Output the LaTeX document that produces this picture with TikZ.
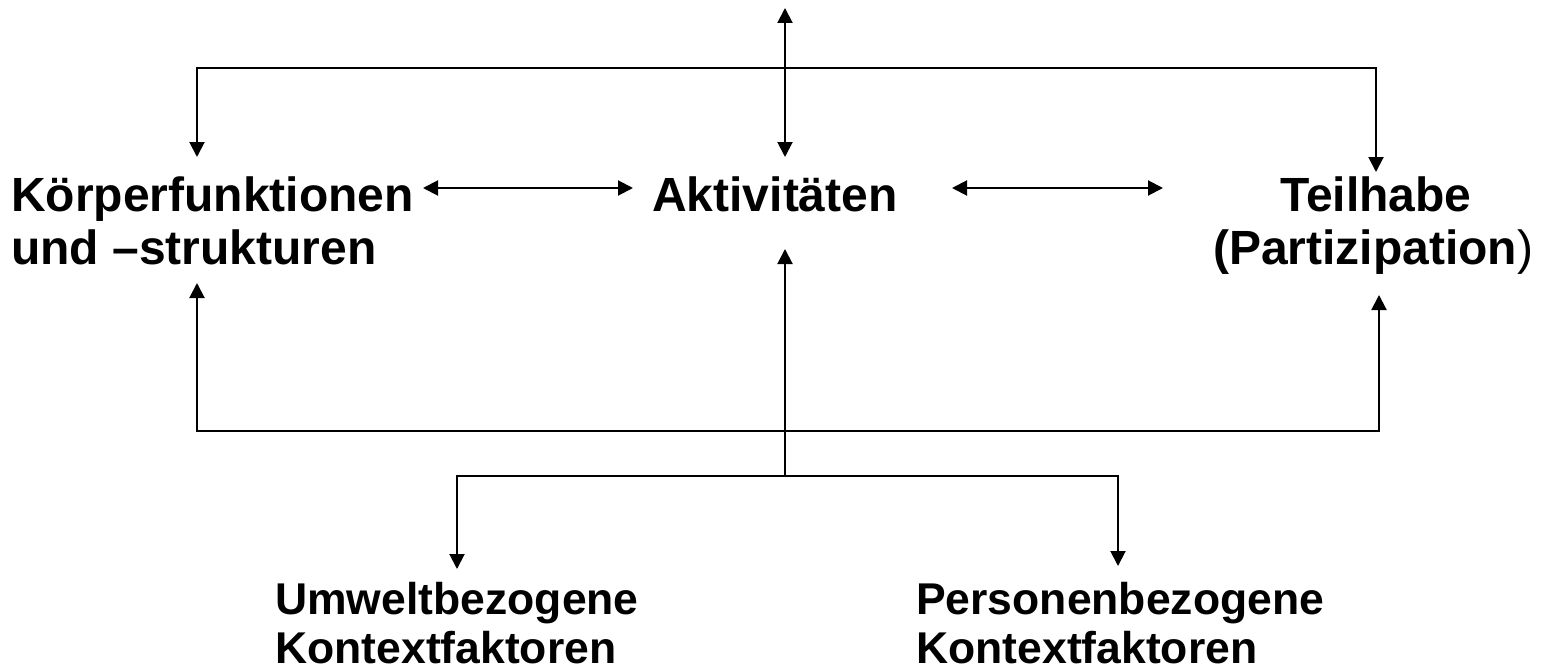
\documentclass[tikz,border=0pt]{standalone}
\usepackage{fontspec}
\setmainfont{Liberation Sans}
\usetikzlibrary{arrows.meta}
\begin{document}
\begin{tikzpicture}[x=1pt,y=-1pt,
  lbl/.style={inner sep=0pt,font=\fontsize{48}{56}\selectfont\bfseries},
  lblsmall/.style={inner sep=0pt,font=\fontsize{44.5}{52}\selectfont\bfseries},
  conn/.style={line width=2pt,arrows={Triangle[length=15pt,width=15pt]-Triangle[length=15pt,width=15pt]}},
  oneway/.style={line width=2pt,-{Triangle[length=15pt,width=15pt]}}]
\useasboundingbox (0,0) rectangle (1548,669);
% labels
\node[lbl,anchor=base west] (koerperA) at (11,211) {Körperfunktionen};
\node[lbl,anchor=base west] (koerperB) at (11,264) {und –strukturen};
\node[lbl,anchor=base] (akt) at (775,211) {Aktivitäten};
\node[lbl,anchor=base] (teilA) at (1376,211) {Teilhabe};
\node[lbl,anchor=base west] (teilB) at (1213,264) {(Partizipation\mdseries)};
\node[lblsmall,anchor=base west] (umweltA) at (275,614) {Umweltbezogene};
\node[lblsmall,anchor=base west] (umweltB) at (275,663) {Kontextfaktoren};
\node[lblsmall,anchor=base west] (persA) at (916,614) {Personenbezogene};
\node[lblsmall,anchor=base west] (persB) at (916,663) {Kontextfaktoren};
% connector end points
\coordinate (topT) at (785,8);
\coordinate (aktT) at (785,157);
\coordinate (koT) at (197,157);
\coordinate (teT) at (1376,172);
\coordinate (topL) at (197,68);
\coordinate (topR) at (1376,68);
\coordinate (koR) at (423,188);
\coordinate (akL) at (633,188);
\coordinate (akR) at (952,188);
\coordinate (teL) at (1163,188);
\coordinate (koB) at (197,283);
\coordinate (teB) at (1379,295);
\coordinate (botL) at (197,431);
\coordinate (botR) at (1379,431);
\coordinate (aktB) at (785,249);
\coordinate (fork) at (785,476);
\coordinate (forkL) at (457,476);
\coordinate (forkR) at (1118,476);
\coordinate (umT) at (457,569);
\coordinate (peT) at (1118,566);
% connectors
\draw[conn] (topT) -- (aktT);
\draw[conn] (koT) -- (topL) -- (topR) -- (teT);
\draw[conn] (koR) -- (akL);
\draw[conn] (akR) -- (teL);
\draw[conn] (koB) -- (botL) -- (botR) -- (teB);
\draw[oneway] (fork) -- (aktB);
\draw[conn] (umT) -- (forkL) -- (forkR) -- (peT);
\end{tikzpicture}
\end{document}
